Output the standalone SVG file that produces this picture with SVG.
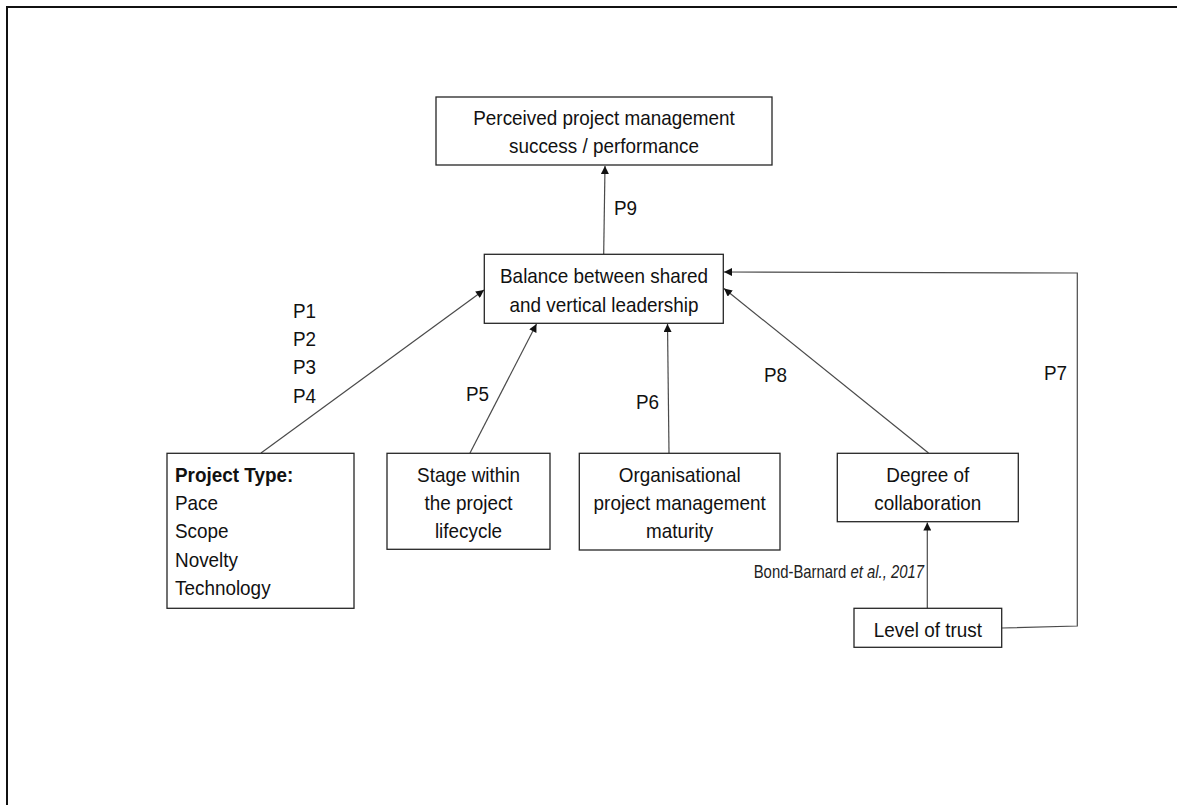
<svg xmlns="http://www.w3.org/2000/svg" width="1177" height="805" viewBox="0 0 1177 805">
  <style>
    .box { fill: #ffffff; stroke: #262626; stroke-width: 1.3; }
    .lbl { font-family: "Liberation Sans", Arial, sans-serif; font-size: 21px; fill: #111111; }
    .mid { text-anchor: middle; }
    .edge { fill: none; stroke: #4a4a4a; stroke-width: 1.2; }
    .cite { font-family: "Liberation Sans", Arial, sans-serif; font-size: 17.5px; fill: #222222; text-anchor: end; }
  </style>
  <defs>
    <marker id="arrow" viewBox="0 0 10 10" refX="10" refY="5" markerWidth="9" markerHeight="8" markerUnits="userSpaceOnUse" orient="auto">
      <path d="M0,0 L10,5 L0,10 z" fill="#111111"/>
    </marker>
  </defs>

  <rect width="1177" height="805" fill="#ffffff"/>
  <!-- frame edges -->
  <path d="M7,805 L7,7 L1177,7" fill="none" stroke="#111111" stroke-width="2"/>

  <g id="connectors">
    <path class="edge" d="M603.7,254 L605,166" marker-end="url(#arrow)"/>
    <path class="edge" d="M261,453 L484,290" marker-end="url(#arrow)"/>
    <path class="edge" d="M470,453 L536.5,324" marker-end="url(#arrow)"/>
    <path class="edge" d="M669,453 L667.5,324" marker-end="url(#arrow)"/>
    <path class="edge" d="M928.5,453 L724,288.5" marker-end="url(#arrow)"/>
    <path class="edge" d="M927.3,608 L927.3,522.5" marker-end="url(#arrow)"/>
    <path class="edge" d="M1002,628 L1077.3,626 L1077.3,273 L724,272" marker-end="url(#arrow)"/>
  </g>

  <!-- all labels use a slightly condensed Arial-like face: matrix(0.9,0,0,1,x,y) -->
  <g id="edge-labels">
    <text class="lbl" transform="matrix(0.9,0,0,1,293,318)">P1</text>
    <text class="lbl" transform="matrix(0.9,0,0,1,293,346)">P2</text>
    <text class="lbl" transform="matrix(0.9,0,0,1,293,374)">P3</text>
    <text class="lbl" transform="matrix(0.9,0,0,1,293,402.5)">P4</text>
    <text class="lbl" transform="matrix(0.9,0,0,1,466,400.5)">P5</text>
    <text class="lbl" transform="matrix(0.9,0,0,1,636,409)">P6</text>
    <text class="lbl" transform="matrix(0.9,0,0,1,764,382)">P8</text>
    <text class="lbl" transform="matrix(0.9,0,0,1,1044,380)">P7</text>
    <text class="lbl" transform="matrix(0.9,0,0,1,614,215)">P9</text>
    <text class="cite" transform="matrix(0.85,0,0,1,924,578)">Bond-Barnard <tspan font-style="italic">et al., 2017</tspan></text>
  </g>

  <g id="node-success">
    <rect class="box" x="436" y="97" width="336" height="68"/>
    <text class="lbl mid" transform="matrix(0.9,0,0,1,604,125)">Perceived project management</text>
    <text class="lbl mid" transform="matrix(0.9,0,0,1,604,152.5)">success / performance</text>
  </g>

  <g id="node-balance">
    <rect class="box" x="484.3" y="254.3" width="239" height="69"/>
    <text class="lbl mid" transform="matrix(0.9,0,0,1,604,283.3)">Balance between shared</text>
    <text class="lbl mid" transform="matrix(0.9,0,0,1,604,311.7)">and vertical leadership</text>
  </g>

  <g id="node-project-type">
    <rect class="box" x="167" y="453.3" width="187" height="155"/>
    <text class="lbl" font-weight="bold" transform="matrix(0.9,0,0,1,175,481.7)">Project Type:</text>
    <text class="lbl" transform="matrix(0.9,0,0,1,175,510)">Pace</text>
    <text class="lbl" transform="matrix(0.9,0,0,1,175,538.3)">Scope</text>
    <text class="lbl" transform="matrix(0.9,0,0,1,175,566.7)">Novelty</text>
    <text class="lbl" transform="matrix(0.9,0,0,1,175,595)">Technology</text>
  </g>

  <g id="node-stage">
    <rect class="box" x="387" y="453.3" width="163" height="96"/>
    <text class="lbl mid" transform="matrix(0.9,0,0,1,468.5,481.7)">Stage within</text>
    <text class="lbl mid" transform="matrix(0.9,0,0,1,468.5,510)">the project</text>
    <text class="lbl mid" transform="matrix(0.9,0,0,1,468.5,538)">lifecycle</text>
  </g>

  <g id="node-maturity">
    <rect class="box" x="579.3" y="453.3" width="200.7" height="96.7"/>
    <text class="lbl mid" transform="matrix(0.9,0,0,1,679.7,481.7)">Organisational</text>
    <text class="lbl mid" transform="matrix(0.9,0,0,1,679.7,510)">project management</text>
    <text class="lbl mid" transform="matrix(0.9,0,0,1,679.7,537.5)">maturity</text>
  </g>

  <g id="node-collaboration">
    <rect class="box" x="837.3" y="453.3" width="181" height="68.4"/>
    <text class="lbl mid" transform="matrix(0.9,0,0,1,927.8,481.7)">Degree of</text>
    <text class="lbl mid" transform="matrix(0.9,0,0,1,927.8,509.5)">collaboration</text>
  </g>

  <g id="node-trust">
    <rect class="box" x="854" y="608.3" width="147.7" height="39"/>
    <text class="lbl mid" transform="matrix(0.9,0,0,1,927.8,636.5)">Level of trust</text>
  </g>
</svg>
